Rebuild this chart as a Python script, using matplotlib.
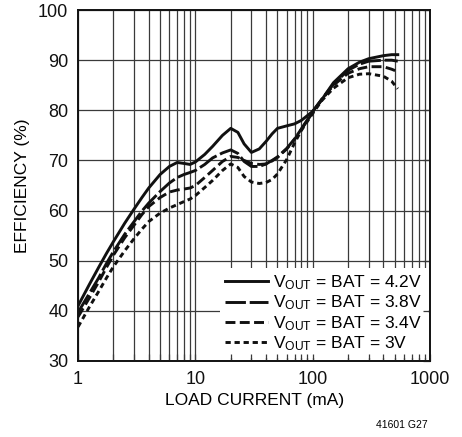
import numpy as np
import matplotlib.pyplot as plt
from matplotlib.ticker import LogLocator, NullFormatter, FixedLocator

plt.rcParams['font.family'] = ['Liberation Sans', 'DejaVu Sans']
plt.rcParams['mathtext.fontset'] = 'custom'
plt.rcParams['mathtext.rm'] = 'Liberation Sans'
plt.rcParams['mathtext.it'] = 'Liberation Sans'

# load current (mA)
current = [1, 1.25, 1.5, 1.75, 2, 2.5, 3, 3.5, 4, 5, 6, 7, 8, 9, 10, 12, 14, 17, 20, 23, 26,
           30, 35, 40, 45, 50, 60, 70, 80, 100, 120, 150, 200, 250, 300, 400, 470, 530]

# efficiency (%) for each battery voltage
eff_42 = [41.0, 45.3, 48.7, 51.5, 53.8, 57.5, 60.3, 62.6, 64.5, 67.2, 68.8, 69.6, 69.4, 69.2, 69.7,
          71.2, 72.8, 75.0, 76.4, 75.6, 73.3, 71.6, 72.3, 73.8, 75.3, 76.4, 76.9, 77.3, 78.0, 79.8,
          82.2, 85.5, 88.3, 89.6, 90.3, 90.9, 91.1, 91.1]
eff_38 = [39.7, 43.5, 46.6, 49.5, 51.8, 55.3, 57.8, 59.9, 61.5, 63.8, 65.5, 66.6, 67.2, 67.6, 68.0,
          69.2, 70.5, 71.5, 72.1, 71.4, 69.8, 68.8, 68.8, 69.3, 70.0, 70.7, 72.4, 74.3, 76.3, 79.8,
          82.3, 85.2, 88.0, 89.2, 89.8, 90.0, 90.0, 89.8]
eff_34 = [38.8, 42.6, 45.8, 48.7, 51.1, 54.6, 57.1, 59.2, 60.8, 62.6, 63.7, 64.1, 64.3, 64.5, 65.0,
          66.6, 68.0, 69.8, 70.8, 70.6, 70.0, 69.4, 69.2, 69.3, 69.9, 70.6, 72.3, 74.2, 76.2, 79.6,
          82.2, 85.0, 87.4, 88.3, 88.7, 88.7, 88.2, 87.7]
eff_30 = [36.8, 40.8, 43.9, 46.6, 48.8, 52.0, 54.4, 56.3, 57.8, 59.5, 60.5, 61.2, 61.8, 62.3, 63.0,
          64.6, 66.0, 68.0, 69.3, 68.6, 66.8, 65.7, 65.4, 65.6, 66.2, 67.3, 70.2, 73.5, 76.0, 79.4,
          82.0, 84.4, 86.5, 87.2, 87.3, 86.8, 85.8, 84.3]

labels = [r'V$_{\mathrm{OUT}}$ = BAT = 4.2V',
          r'V$_{\mathrm{OUT}}$ = BAT = 3.8V',
          r'V$_{\mathrm{OUT}}$ = BAT = 3.4V',
          r'V$_{\mathrm{OUT}}$ = BAT = 3V']
styles = ['-', (0, (7, 1.3)), (0, (3.4, 1.5)), (0, (1.8, 1.3))]

fig = plt.figure(figsize=(4.62, 4.37), dpi=100)
ax = fig.add_axes([0.169, 0.174, 0.762, 0.803])

for eff, lab, ls in zip([eff_42, eff_38, eff_34, eff_30], labels, styles):
    ax.plot(current, eff, color='#111111', lw=2.1, ls=ls, label=lab)

ax.set_xscale('log')
ax.set_xlim(1, 1000)
ax.set_ylim(30, 100)
ax.yaxis.set_major_locator(FixedLocator(np.arange(30, 101, 10)))
ax.xaxis.set_major_locator(LogLocator(base=10))
ax.xaxis.set_minor_locator(LogLocator(base=10, subs=np.arange(2, 10)))
ax.xaxis.set_minor_formatter(NullFormatter())
ax.set_xticks([1, 10, 100, 1000], ['1', '10', '100', '1000'])
ax.grid(True, which='both', color='#3a3a3a', lw=0.9)
ax.tick_params(which='both', length=0, labelsize=13, pad=7, colors='#111111')
for s in ax.spines.values():
    s.set_linewidth(1.2)
    s.set_color('#111111')

ax.set_xlabel('LOAD CURRENT (mA)', fontsize=12.5, labelpad=4)
ax.set_ylabel('EFFICIENCY (%)', fontsize=12.5, labelpad=6)

leg = ax.legend(loc='lower right', bbox_to_anchor=(1.0, 0.0), borderaxespad=0.15,
                fontsize=12.5, frameon=True, fancybox=False, framealpha=1,
                edgecolor='none', facecolor='white', handlelength=2.5,
                handletextpad=0.3, labelspacing=0.1, borderpad=0.3)

# tick stubs drawn above the legend box
ax2 = fig.add_axes(ax.get_position(), sharex=ax, sharey=ax)
ax2.patch.set_visible(False)
ax2.tick_params(which='both', direction='in', length=5, width=0.9, bottom=True,
                right=True, left=False, top=False, labelbottom=False, labelleft=False,
                colors='#3a3a3a')
for s in ax2.spines.values():
    s.set_linewidth(1.2)
    s.set_color('#111111')

fig.text(0.926, 0.027, '41601 G27', fontsize=7.5, ha='right', va='center')

fig.savefig('out.png', dpi=100)
